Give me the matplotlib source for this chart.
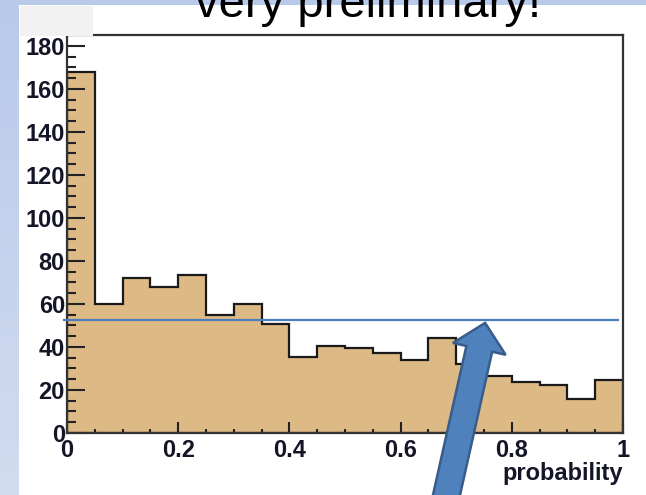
import numpy as np
import matplotlib.pyplot as plt
from matplotlib.patches import Rectangle, Polygon
from matplotlib.ticker import MultipleLocator, FuncFormatter

# данные гистограммы (20 бинов по 0.05)
edges = np.linspace(0, 1, 21)
counts = [168, 60, 72, 68, 73.5, 55, 60, 50.5, 35.5, 40.5,
          39.5, 37, 34, 44, 32, 26.5, 23.5, 22.5, 16, 24.5]
level = 52.5          # синяя горизонтальная линия
arrow_tip = (0.752, 51.2)

W, H = 646, 495
fig = plt.figure(figsize=(W / 100, H / 100), dpi=100)
fig.patch.set_facecolor('white')

# фон слайда: полоски сверху и слева
bg = fig.add_axes([0, 0, 19 / W, 1])
grad = np.linspace(0, 1, 256).reshape(-1, 1)
bg.imshow(grad, aspect='auto', extent=[0, 1, 0, 1], origin='upper',
          cmap=plt.matplotlib.colors.LinearSegmentedColormap.from_list(
              'bg', ['#b8c9ea', '#d1dcf0']))
bg.axis('off')
fig.patches.append(Rectangle((0, 1 - 5 / H), 1, 5 / H, transform=fig.transFigure,
                             facecolor='#b8c9ea', edgecolor='none', zorder=0))

ax = fig.add_axes([67 / W, 1 - 433 / H, 556 / W, 398 / H])
centers = (edges[:-1] + edges[1:]) / 2
ax.hist(centers, bins=edges, weights=counts, histtype='stepfilled',
        facecolor='#ddb985', edgecolor='#1a1a1a', linewidth=1.6)
ax.set_xlim(0, 1)
ax.set_ylim(0, 185.1)

for s in ax.spines.values():
    s.set_linewidth(1.6)
    s.set_color('#333333')

ax.xaxis.set_major_locator(MultipleLocator(0.2))
ax.xaxis.set_minor_locator(MultipleLocator(0.05))
ax.yaxis.set_major_locator(MultipleLocator(20))
ax.yaxis.set_minor_locator(MultipleLocator(5))
ax.xaxis.set_major_formatter(FuncFormatter(lambda v, p: '%g' % round(v, 2)))
ax.tick_params(axis='y', which='major', direction='in', length=13, width=1.5,
               pad=1.5, color='#222222')
ax.tick_params(axis='y', which='minor', direction='in', length=6.5, width=1.5,
               color='#222222')
ax.tick_params(axis='x', which='major', direction='in', length=7.7, width=1.5,
               pad=4.5, color='#222222')
ax.tick_params(axis='x', which='minor', direction='in', length=3, width=1.5,
               color='#222222')
for lab in ax.get_xticklabels() + ax.get_yticklabels():
    lab.set_fontfamily('Liberation Sans')
    lab.set_fontweight('bold')
    lab.set_fontsize(17)
    lab.set_color('#151528')

fig.text(623 / W, 1 - 480 / H, 'probability', ha='right', va='baseline',
         fontfamily='Liberation Sans', fontweight='bold', fontsize=17,
         color='#151528')

# синяя линия уровня
ax.plot([-0.005, 0.991], [level, level], color='#4a7ebb', linewidth=1.6,
        clip_on=False, zorder=5)

# серый прямоугольник в левом верхнем углу
fig.patches.append(Rectangle((20 / W, 1 - 36 / H), 73 / W, 30 / H,
                             transform=fig.transFigure, facecolor='#f2f2f2',
                             edgecolor='none', zorder=10))

fig.text(0.570, 1 - 17 / H, 'very preliminary!', ha='center', va='baseline',
         fontfamily='Liberation Sans', fontsize=34, color='black', zorder=11)

# стрелка
tip = ax.transData.transform(arrow_tip)
tip = np.array([tip[0], H - tip[1]])        # в пикселях сверху
tail = np.array([446.5, 495.0])
u = (tip - tail) / np.linalg.norm(tip - tail)
n = np.array([-u[1], u[0]])
base = tip - 26.6 * u
tail = tail - 10 * u
w, hw = 13.2, 27
pts = [tail - w * n, base - w * n, base - hw * n, tip,
       base + hw * n, base + w * n, tail + w * n]
pts = [(p[0] / W, 1 - p[1] / H) for p in pts]
fig.patches.append(Polygon(pts, closed=True, transform=fig.transFigure,
                           facecolor='#4f81bd', edgecolor='#385d8a',
                           linewidth=1.8, zorder=12))

fig.savefig('out.png', dpi=100)
